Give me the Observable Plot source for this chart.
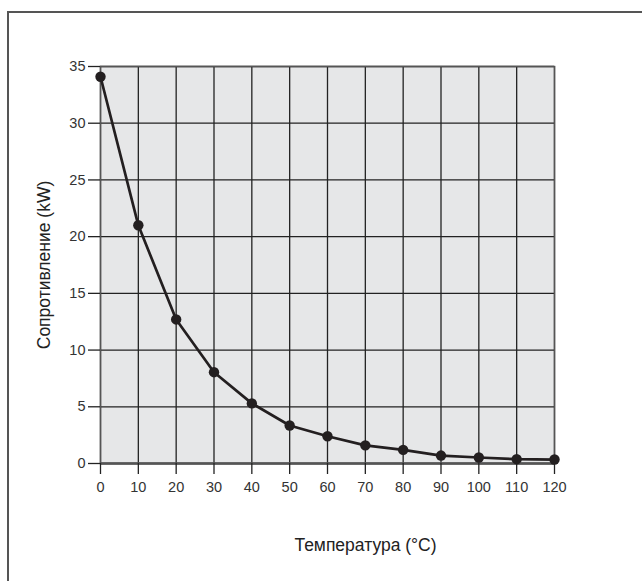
<!DOCTYPE html>
<html>
<head>
<meta charset="utf-8">
<script src="https://cdn.jsdelivr.net/npm/d3@7"></script>
<script src="https://cdn.jsdelivr.net/npm/@observablehq/plot@0.6"></script>
<style>
  html, body { margin: 0; padding: 0; background: #fff; }
  #wrap { position: relative; width: 642px; height: 581px; overflow: hidden; }
  #border { position: absolute; left: 7px; top: 11px; width: 700px; height: 700px;
            border-left: 2px solid #555; border-top: 2px solid #555; box-sizing: border-box; }
  #chart { position: absolute; left: 0; top: 0; }
</style>
</head>
<body>
<div id="wrap"><div id="border"></div><div id="chart"></div></div>
<script>
const temperatures = [0, 10, 20, 30, 40, 50, 60, 70, 80, 90, 100, 110, 120];
const resistance = [34.1, 21.0, 12.7, 8.05, 5.3, 3.35, 2.4, 1.6, 1.2, 0.7, 0.53, 0.38, 0.35];
const xTicks = [0, 10, 20, 30, 40, 50, 60, 70, 80, 90, 100, 110, 120];
const yTicks = [0, 5, 10, 15, 20, 25, 30, 35];
const xLabel = "Температура (°C)";
const yLabel = "Сопротивление (kW)";

const data = temperatures.map((t, i) => ({t, r: resistance[i]}));

const chart = Plot.plot({
  width: 642,
  height: 581,
  marginLeft: 100,
  marginRight: 88,
  marginTop: 66,
  marginBottom: 118,
  style: {fontFamily: "'Liberation Sans', Arial, sans-serif", fontSize: "13px", color: "#333", background: "transparent"},
  x: {domain: [0, 120]},
  y: {domain: [0, 35]},
  marks: [
    Plot.frame({fill: "#e6e7e8", stroke: null}),
    Plot.gridX(xTicks, {stroke: "#222", strokeOpacity: 1, strokeWidth: 1.3}),
    Plot.gridY(yTicks, {stroke: "#222", strokeOpacity: 1, strokeWidth: 1.3}),
    Plot.frame({stroke: "#555", strokeWidth: 1.5}),
    Plot.ruleY([0], {stroke: "#555", strokeWidth: 2.5}),
    Plot.axisY(yTicks, {tickSize: 12, tickPadding: 3, stroke: "#222", strokeWidth: 1.3, fontSize: 14.5, label: null}),
    Plot.axisX(xTicks, {tickSize: 11, tickPadding: 7, stroke: "#222", strokeWidth: 1.3, fontSize: 14.5, label: null}),
    Plot.text([yLabel], {frameAnchor: "left", textAnchor: "middle", rotate: -90, dx: -56.5, fontSize: 17.5, fill: "#222"}),
    Plot.text([xLabel], {frameAnchor: "bottom", dx: 38, dy: 87, fontSize: 17.5, fill: "#222"}),
    Plot.line(data, {x: "t", y: "r", stroke: "#231f20", strokeWidth: 2.7}),
    Plot.dot(data, {x: "t", y: "r", r: 5.2, fill: "#231f20", stroke: null})
  ]
});
document.getElementById("chart").appendChild(chart);
</script>
</body>
</html>
